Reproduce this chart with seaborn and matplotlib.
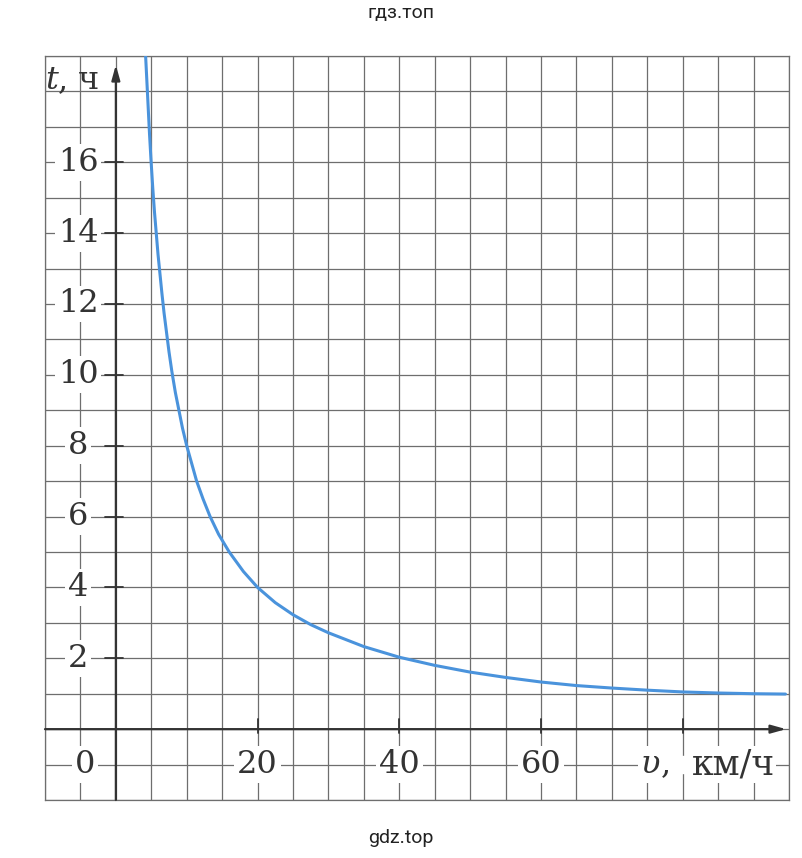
import seaborn as sns
import matplotlib.pyplot as plt
import numpy as np

# values (v in km/h, t in hours)
speed_kmh = [4.2, 4.35, 4.55, 4.75, 4.95, 5.2, 5.45, 5.7, 5.95, 6.2, 6.5, 6.8, 7.15, 7.5,
             7.9, 8.4, 8.9, 9.4, 10.0, 10.7, 11.4, 12.3, 13.3, 14.5, 16.0, 18.0, 20.0,
             22.5, 25, 27.5, 30, 35, 40, 45, 50, 55, 60, 65, 70, 75, 80, 85, 90, 94.5]
time_h = [19.0, 18.4, 17.6, 16.8, 16.1, 15.3, 14.6, 14.0, 13.4, 12.9, 12.3, 11.75, 11.2,
          10.65, 10.1, 9.5, 9.0, 8.5, 8.0, 7.5, 7.0, 6.5, 6.0, 5.5, 5.0, 4.45, 4.0,
          3.57, 3.23, 2.95, 2.72, 2.33, 2.03, 1.8, 1.61, 1.46, 1.33, 1.23, 1.16, 1.1,
          1.05, 1.02, 1.0, 0.99]
t_ticks = [2, 4, 6, 8, 10, 12, 14, 16]
v_ticks = [20, 40, 60]
v_ticks_marks = [20, 40, 60, 80]

sns.set_style("white")
plt.rcParams['font.family'] = ['DejaVu Serif']

fig = plt.figure(figsize=(8.02, 8.58), dpi=100)
ax = fig.add_axes([45 / 802, 58 / 858, 744 / 802, 744 / 858])

# graph paper
ax.set_xlim(-10, 95)
ax.set_ylim(-2, 19)
ax.set_xticks(np.arange(-10, 96, 5))
ax.set_yticks(np.arange(-2, 20, 1))
ax.grid(True, color='#6e6e6e', lw=0.9)
ax.tick_params(length=0, labelbottom=False, labelleft=False)
for s in ax.spines.values():
    s.set_color('#6e6e6e')
    s.set_linewidth(0.9)

# the curve
sns.lineplot(x=speed_kmh, y=time_h, ax=ax, color='#4a93dc', lw=2.2,
             sort=False, estimator=None, zorder=4)

ink = '#333333'
# axes with arrows
ax.annotate('', xy=(0, 18.75), xytext=(0, -2), zorder=5,
            arrowprops=dict(arrowstyle='-|>,head_length=0.9,head_width=0.25', color=ink, lw=1.6,
                            shrinkA=0, shrinkB=0))
ax.annotate('', xy=(94.6, 0), xytext=(-10, 0), zorder=5,
            arrowprops=dict(arrowstyle='-|>,head_length=0.9,head_width=0.25', color=ink, lw=1.6,
                            shrinkA=0, shrinkB=0))

box = dict(facecolor='white', edgecolor='none', pad=2)
for t in t_ticks:
    ax.plot([-1.5, 1.0], [t, t], color=ink, lw=1.3, zorder=5)
    ax.text(-5.3, t, str(t), ha='center', va='center', fontsize=23, color=ink,
            bbox=box, zorder=3)
for v in v_ticks_marks:
    ax.plot([v, v], [-0.12, 0.3], color=ink, lw=1.3, zorder=5)
for v in v_ticks:
    ax.text(v, -1, str(v), ha='center', va='center', fontsize=23, color=ink,
            bbox=box, zorder=3)
ax.text(-4.3, -1, '0', ha='center', va='center', fontsize=23, color=ink,
        bbox=box, zorder=3)

# axis labels
t_lbl = ax.text(-9.95, 18.3, 't', ha='left', va='center', fontsize=23, color=ink,
                style='italic', zorder=3)
ax.annotate(',', xy=(1, 0.5), xycoords=t_lbl, ha='left', va='center', fontsize=23,
            color=ink, zorder=3)
ax.text(-2.3, 18.3, 'ч', ha='right', va='center', fontsize=23, color=ink, zorder=3)

v_lbl = ax.text(74.1, -1, 'υ', ha='left', va='center', fontsize=23, color=ink,
                style='italic', bbox=box, zorder=3)
ax.annotate(',', xy=(1, 0.5), xycoords=v_lbl, ha='left', va='center', fontsize=23,
            color=ink, zorder=3)
ax.text(93.0, -1, 'км/ч', ha='right', va='center', fontsize=25, color=ink,
        bbox=dict(facecolor='white', edgecolor='none', pad=1), zorder=3)
# white gap between the two parts of the label
ax.axhspan(-1.25, -0.75, xmin=(76.5 + 10) / 105, xmax=(84.0 + 10) / 105,
           color='white', zorder=2.5)

fig.text(0.5, 1 - 13 / 858, 'гдз.топ', ha='center', va='center', fontsize=14,
         family='Roboto', color='#222222')
fig.text(0.5, 1 - 838 / 858, 'gdz.top', ha='center', va='center', fontsize=14,
         family='Roboto', color='#222222')

fig.savefig('out.png', dpi=100, facecolor='white')
